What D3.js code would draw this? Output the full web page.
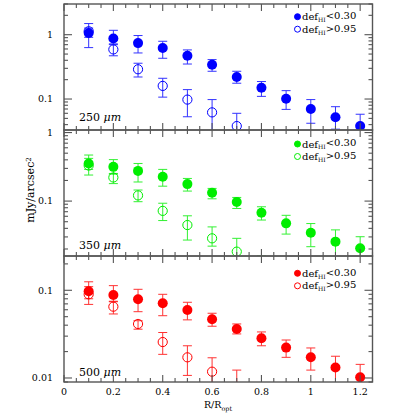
<!DOCTYPE html>
<html>
<head>
<meta charset="utf-8">
<script src="https://cdn.jsdelivr.net/npm/d3@7"></script>
<style>
  html, body { margin: 0; padding: 0; background: #fff; }
  svg { display: block; }
</style>
</head>
<body>
<div id="chart"></div>
<script>
// ---------- data ----------
const radii = [0.1, 0.2, 0.3, 0.4, 0.5, 0.6, 0.7, 0.8, 0.9, 1.0, 1.1, 1.2];
const xTicks = [0, 0.2, 0.4, 0.6, 0.8, 1, 1.2];

const wavelengths = ["250 μm", "350 μm", "500 μm"];
const legendLabels = ["<0.30", ">0.95"];

// 250 micron
const fill250   = [1.06, 0.87, 0.74, 0.62, 0.47, 0.34, 0.22, 0.15, 0.101, 0.070, 0.052, 0.038];
const fill250Lo = [0.91, 0.72, 0.52, 0.43, 0.35, 0.27, 0.176, 0.11, 0.069, 0.042, 0.034, 0.025];
const fill250Hi = [1.27, 1.17, 0.97, 0.79, 0.58, 0.41, 0.27, 0.187, 0.135, 0.098, 0.076, 0.058];
const open250   = [1.13, 0.59, 0.29, 0.16, 0.098, 0.062, 0.038];
const open250Lo = [0.63, 0.47, 0.22, 0.107, 0.053, 0.020, 0.010];
const open250Hi = [1.49, 0.70, 0.36, 0.21, 0.14, 0.098, 0.060];

// 350 micron
const fill350   = [0.354, 0.316, 0.276, 0.226, 0.177, 0.132, 0.0967, 0.0676, 0.0473, 0.0346, 0.0256, 0.0205];
const fill350Lo = [0.29, 0.247, 0.19, 0.165, 0.14, 0.108, 0.078, 0.0529, 0.033, 0.0216, 0.012, 0.010];
const fill350Hi = [0.42, 0.403, 0.354, 0.29, 0.214, 0.153, 0.113, 0.0826, 0.062, 0.047, 0.038, 0.0302];
const open350   = [0.33, 0.221, 0.121, 0.072, 0.0447, 0.0286, 0.0183, 0.012];
const open350Lo = [0.24, 0.18, 0.098, 0.052, 0.027, 0.022, 0.010, 0.008];
const open350Hi = [0.47, 0.253, 0.145, 0.093, 0.061, 0.042, 0.0286, 0.0158];

// 500 micron
const fill500   = [0.0974, 0.0884, 0.079, 0.071, 0.0596, 0.0467, 0.0362, 0.0284, 0.0222, 0.0172, 0.0132, 0.0102];
const fill500Lo = [0.080, 0.075, 0.057, 0.0513, 0.046, 0.0389, 0.0318, 0.0233, 0.0172, 0.0123, 0.0085, 0.008];
const fill500Hi = [0.125, 0.113, 0.1026, 0.090, 0.073, 0.0547, 0.0413, 0.0335, 0.0271, 0.022, 0.0177, 0.0143];
const open500   = [0.090, 0.065, 0.0413, 0.0257, 0.0172, 0.0118, 0.007];
const open500Lo = [0.069, 0.0537, 0.036, 0.0186, 0.0107, 0.007, 0.005];
const open500Hi = [0.110, 0.074, 0.045, 0.033, 0.0233, 0.017, 0.0123];

const yDomains = [[0.033, 3], [0.0158, 1.09], [0.009, 0.246]];
const yLabelTicks = [[1, 0.1], [1, 0.1], [0.1, 0.01]];
const yTickLabels = [["1", "0.1"], ["1", "0.1"], ["0.1", "0.01"]];

// ---------- layout ----------
const W = 414, H = 414;
const left = 64, right = 372.5;
const panelTops = [4, 130, 256];
const panelH = 126;
const colors = ["#0000ff", "#00ee00", "#ff0000"];
const legendOffsets = [12.7, 14, 17.3];
const labelOffsets = [113, 115, 116];
const frameColor = "#555";
const serif = "'DejaVu Serif', 'Liberation Serif', serif";

const panels = [
  {fill: fill250, fillLo: fill250Lo, fillHi: fill250Hi, open: open250, openLo: open250Lo, openHi: open250Hi},
  {fill: fill350, fillLo: fill350Lo, fillHi: fill350Hi, open: open350, openLo: open350Lo, openHi: open350Hi},
  {fill: fill500, fillLo: fill500Lo, fillHi: fill500Hi, open: open500, openLo: open500Lo, openHi: open500Hi}
];

const svg = d3.select("#chart").append("svg").attr("width", W).attr("height", H);

const x = d3.scaleLinear().domain([0, 1.25]).range([left, right]);
const xMinor = d3.range(0, 1.2501, 0.05).map(v => +v.toFixed(2));

panels.forEach((p, i) => {
  const top = panelTops[i], bottom = top + panelH;
  const y = d3.scaleLog().domain(yDomains[i]).range([bottom, top]);
  const col = colors[i];
  const g = svg.append("g");

  const clipId = "clip" + i;
  svg.append("clipPath").attr("id", clipId).append("rect")
    .attr("x", left).attr("y", top).attr("width", right - left).attr("height", panelH);

  const data = g.append("g").attr("clip-path", `url(#${clipId})`);

  function drawSeries(vals, lo, hi, filled) {
    const pts = vals.map((v, k) => ({x: radii[k], v, lo: lo[k], hi: hi[k]}));
    const eb = data.append("g").attr("stroke", col).attr("stroke-width", 1).attr("opacity", 0.8);
    pts.forEach(d => {
      const cx = x(d.x);
      eb.append("line").attr("x1", cx).attr("x2", cx).attr("y1", y(d.lo)).attr("y2", y(d.hi));
      eb.append("line").attr("x1", cx - 4.5).attr("x2", cx + 4.5).attr("y1", y(d.lo)).attr("y2", y(d.lo));
      eb.append("line").attr("x1", cx - 4.5).attr("x2", cx + 4.5).attr("y1", y(d.hi)).attr("y2", y(d.hi));
    });
    data.append("g").selectAll("circle").data(pts).join("circle")
      .attr("cx", d => x(d.x)).attr("cy", d => y(d.v))
      .attr("r", filled ? 5 : 4.6)
      .attr("fill", filled ? col : "none")
      .attr("stroke", col)
      .attr("stroke-width", filled ? 0 : 1);
  }
  drawSeries(p.open, p.openLo, p.openHi, false);
  drawSeries(p.fill, p.fillLo, p.fillHi, true);

  // frame
  g.append("rect").attr("x", left).attr("y", top).attr("width", right - left).attr("height", panelH)
    .attr("fill", "none").attr("stroke", frameColor).attr("stroke-width", 1.4);

  // x ticks (inward, top and bottom)
  const tk = g.append("g").attr("stroke", frameColor).attr("stroke-width", 1.1);
  xMinor.forEach(v => {
    const major = Math.abs(v * 5 - Math.round(v * 5)) < 1e-6;
    const len = major ? 7 : 4;
    const px = x(v);
    tk.append("line").attr("x1", px).attr("x2", px).attr("y1", bottom).attr("y2", bottom - len);
    tk.append("line").attr("x1", px).attr("x2", px).attr("y1", top).attr("y2", top + len);
  });

  // y ticks (log, inward, left and right)
  const [d0, d1] = yDomains[i];
  const yt = [];
  for (let e = Math.floor(Math.log10(d0)); e <= Math.ceil(Math.log10(d1)); e++) {
    for (let m = 1; m <= 9; m++) {
      const v = m * Math.pow(10, e);
      if (v >= d0 * 0.999 && v <= d1 * 1.001) yt.push({v, major: m === 1});
    }
  }
  yt.forEach(t => {
    const py = y(t.v);
    const len = t.major ? 8 : 4;
    tk.append("line").attr("x1", left).attr("x2", left + len).attr("y1", py).attr("y2", py);
    tk.append("line").attr("x1", right).attr("x2", right - len).attr("y1", py).attr("y2", py);
  });

  // y tick labels
  yLabelTicks[i].forEach((v, k) => {
    g.append("text").attr("x", 53).attr("y", y(v)).attr("dy", "0.35em")
      .attr("text-anchor", "end").attr("font-family", serif).attr("font-size", 9.5)
      .attr("fill", "#000").text(yTickLabels[i][k]);
  });

  // wavelength label
  g.append("text").attr("x", 79).attr("y", top + labelOffsets[i]).attr("dy", "0.35em")
    .attr("font-family", serif).attr("font-size", 11).attr("fill", "#000")
    .call(t => {
      const parts = wavelengths[i].split(" ");
      t.append("tspan").text(parts[0] + " ");
      t.append("tspan").attr("font-style", "italic").text(parts[1]);
    });

  // legend
  legendLabels.forEach((lab, k) => {
    const ly = top + legendOffsets[i] + k * 12.5;
    g.append("circle").attr("cx", 297.5).attr("cy", ly).attr("r", 3)
      .attr("fill", k === 0 ? col : "none").attr("stroke", col).attr("stroke-width", 1);
    const t = g.append("text").attr("x", 302).attr("y", ly).attr("dy", "0.35em")
      .attr("font-family", serif).attr("font-size", 10).attr("fill", "#000");
    t.append("tspan").text("def");
    t.append("tspan").attr("font-size", 6).attr("dy", "0.3em").text("HI");
    t.append("tspan").attr("dy", "-0.3em").text(lab);
  });
});

// bottom x tick labels
const xl = svg.append("g");
xTicks.forEach(v => {
  xl.append("text").attr("x", x(v)).attr("y", 392).attr("dy", "0.35em")
    .attr("text-anchor", "middle").attr("font-family", serif).attr("font-size", 9.5)
    .text(v === 0 ? "0" : String(+v.toFixed(1)));
});

// x title
const xt = svg.append("text").attr("x", 218).attr("y", 405).attr("dy", "0.35em")
  .attr("text-anchor", "middle").attr("font-family", serif).attr("font-size", 9.5);
xt.append("tspan").text("R/R");
xt.append("tspan").attr("font-size", 6.5).attr("dy", "0.35em").text("opt");

// y title
const ytt = svg.append("text").attr("transform", "translate(34,190) rotate(-90)")
  .attr("text-anchor", "middle").attr("font-family", serif).attr("font-size", 11);
ytt.append("tspan").text("mJy/arcsec");
ytt.append("tspan").attr("font-size", 7).attr("dy", "-0.5em").text("2");
</script>
</body>
</html>
